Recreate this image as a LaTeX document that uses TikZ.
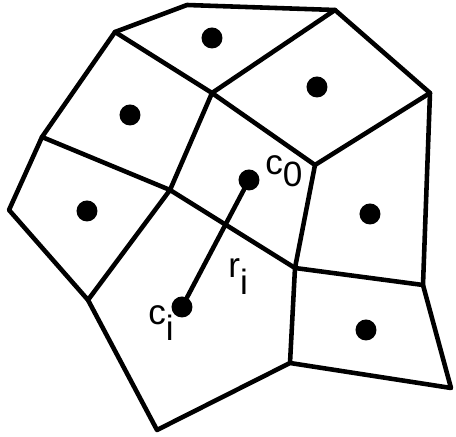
\documentclass[tikz,border=0pt]{standalone}
\usepackage{fontspec}
\setmainfont{Liberation Sans}

\begin{document}
\begin{tikzpicture}[x=0.2mm, y=-0.2mm,
  edge/.style={line width=2.6pt, line join=round, line cap=round},
  site/.style={circle, fill=black, inner sep=0pt, minimum size=0.42cm},
  lbl/.style={font=\fontsize{20}{24}\selectfont, inner sep=0pt, anchor=base west}
]
\useasboundingbox (0,0) rectangle (456,437);
% cell corners
\coordinate (A) at (115,32);
\coordinate (T) at (187,5);
\coordinate (B) at (335,10);
\coordinate (C) at (430,93);
\coordinate (F) at (423,285);
\coordinate (G) at (451,388);
\coordinate (I) at (290,363);
\coordinate (J) at (157,430);
\coordinate (K) at (88,300);
\coordinate (L) at (9,210);
\coordinate (N) at (42,137);
\coordinate (E) at (212,93);
\coordinate (D) at (315,165);
\coordinate (H) at (295,268);
\coordinate (P) at (170,190);
% outline and inner edges
\draw[edge] (A) -- (T) -- (B) -- (C) -- (F) -- (G) -- (I) -- (J) -- (K) -- (L) -- (N) -- cycle;
\draw[edge] (A) -- (E) -- (B);
\draw[edge] (E) -- (D) -- (C);
\draw[edge] (D) -- (H) -- (F);
\draw[edge] (H) -- (I);
\draw[edge] (N) -- (P) -- (E);
\draw[edge] (K) -- (P) -- (H);
% sites
\node[site] (s1) at (212,38) {};
\node[site] (s2) at (317,87) {};
\node[site] (s3) at (130,115) {};
\node[site] (s4) at (87,211) {};
\node[site] (s6) at (370,214) {};
\node[site] (s7) at (366,330) {};
\node[site] (c0) at (249,180) {};
\node[site] (ci) at (182,307) {};
\draw[edge] (c0) -- (ci);
% labels
\node[lbl] (c0lbl) at (265,175) {c\raisebox{-0.33em}{0}};
\node[lbl] (rilbl) at (228,278) {r\raisebox{-0.48em}{i}};
\node[lbl] (cilbl) at (148,325) {c\raisebox{-0.45em}{i}};
\end{tikzpicture}
\end{document}
